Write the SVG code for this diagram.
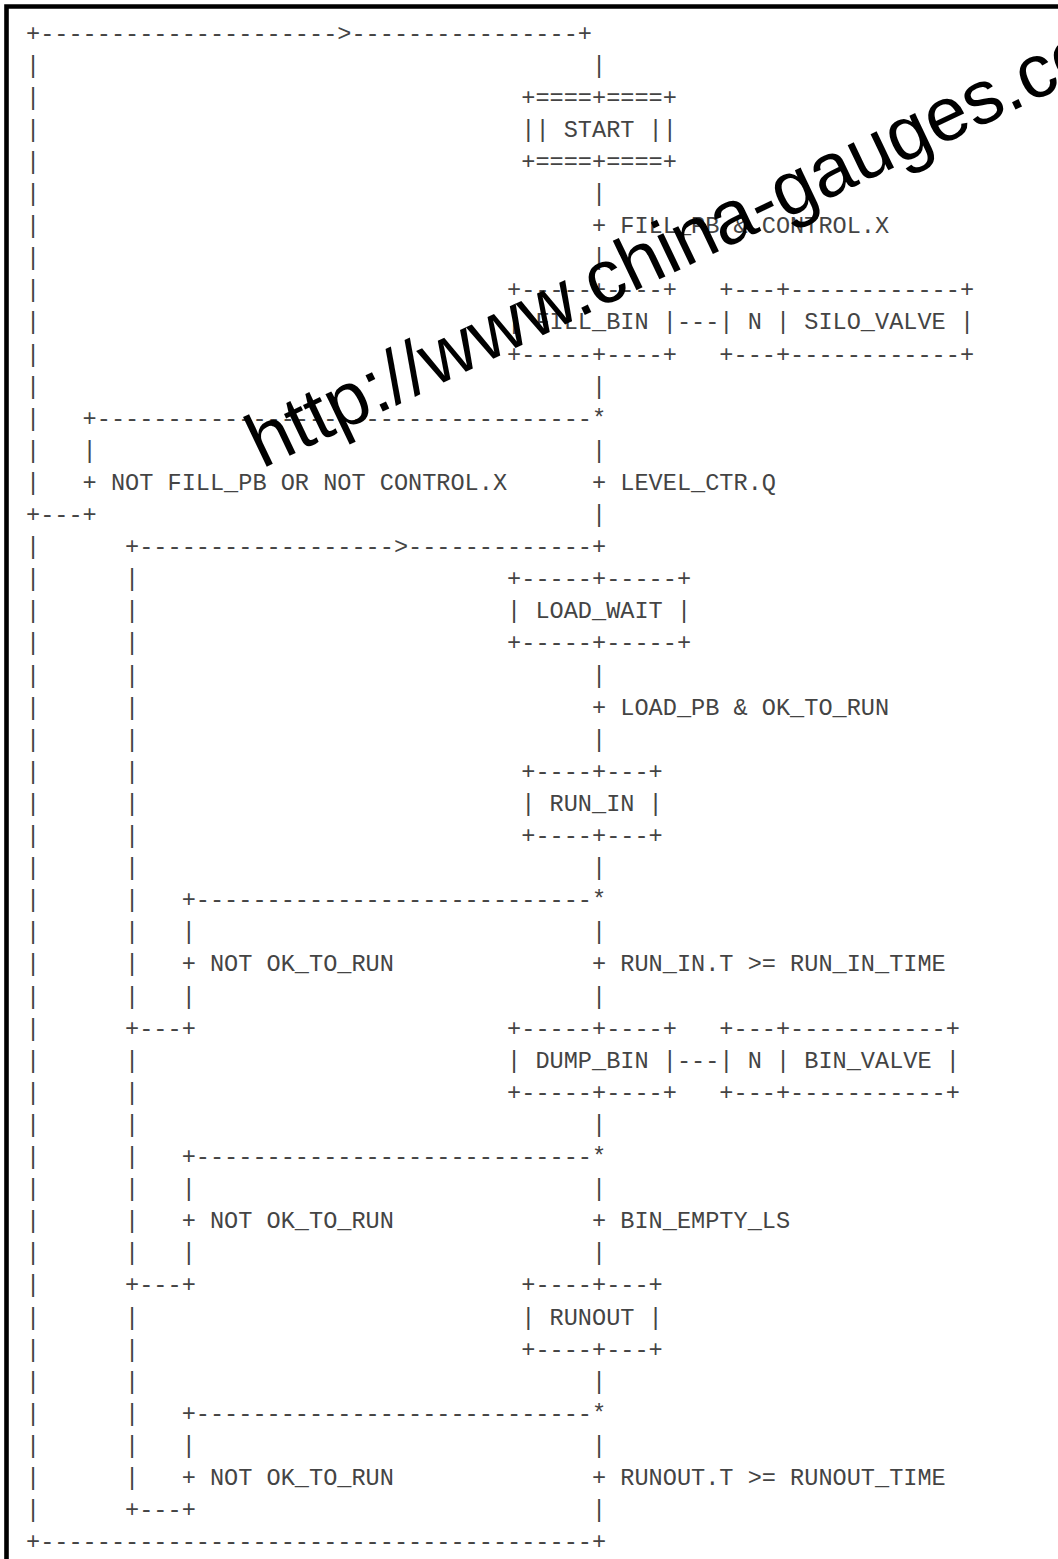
<svg xmlns="http://www.w3.org/2000/svg" width="1058" height="1559" viewBox="0 0 1058 1559">
<style>
.t{font-family:"Liberation Mono","Courier New",monospace;font-size:23.58px;fill:#444;white-space:pre}
.wm{font-family:"Liberation Sans",Arial,sans-serif;font-size:76px;fill:#000}
</style>
<rect width="1058" height="1559" fill="#fff"/>
<path d="M6.5,1559 V6.5 H1058" fill="none" stroke="#000" stroke-width="4.6"/>
<g id="connectors" class="t" xml:space="preserve">
<text x="26" y="40.5">+---------------------&gt;----------------+</text>
<text x="26" y="72.6">|</text><text x="592" y="72.6">|</text>
<text x="26" y="104.7">|</text>
<text x="26" y="136.8">|</text>
<text x="26" y="168.9">|</text>
<text x="26" y="201">|</text><text x="592" y="201">|</text>
<text x="26" y="233.1">|</text><text x="592" y="233.1">+ FILL_PB &amp; CONTROL.X</text>
<text x="26" y="265.2">|</text><text x="592" y="265.2">|</text>
<text x="26" y="297.3">|</text>
<text x="26" y="329.4">|</text><text x="676.9" y="329.4">---</text>
<text x="26" y="361.5">|</text>
<text x="26" y="393.6">|</text><text x="592" y="393.6">|</text>
<text x="26" y="425.7">|</text><text x="82.6" y="425.7">+-----------------------------------*</text>
<text x="26" y="457.8">|</text><text x="82.6" y="457.8">|</text><text x="592" y="457.8">|</text>
<text x="26" y="489.9">|</text><text x="82.6" y="489.9">+ NOT FILL_PB OR NOT CONTROL.X</text><text x="592" y="489.9">+ LEVEL_CTR.Q</text>
<text x="26" y="522">+---+</text><text x="592" y="522">|</text>
<text x="26" y="554.1">|</text><text x="125.05" y="554.1">+------------------&gt;-------------+</text>
<text x="26" y="586.2">|</text><text x="125.05" y="586.2">|</text>
<text x="26" y="618.3">|</text><text x="125.05" y="618.3">|</text>
<text x="26" y="650.4">|</text><text x="125.05" y="650.4">|</text>
<text x="26" y="682.5">|</text><text x="125.05" y="682.5">|</text><text x="592" y="682.5">|</text>
<text x="26" y="714.6">|</text><text x="125.05" y="714.6">|</text><text x="592" y="714.6">+ LOAD_PB &amp; OK_TO_RUN</text>
<text x="26" y="746.7">|</text><text x="125.05" y="746.7">|</text><text x="592" y="746.7">|</text>
<text x="26" y="778.8">|</text><text x="125.05" y="778.8">|</text>
<text x="26" y="810.9">|</text><text x="125.05" y="810.9">|</text>
<text x="26" y="843">|</text><text x="125.05" y="843">|</text>
<text x="26" y="875.1">|</text><text x="125.05" y="875.1">|</text><text x="592" y="875.1">|</text>
<text x="26" y="907.2">|</text><text x="125.05" y="907.2">|</text><text x="181.65" y="907.2">+----------------------------*</text>
<text x="26" y="939.3">|</text><text x="125.05" y="939.3">|</text><text x="181.65" y="939.3">|</text><text x="592" y="939.3">|</text>
<text x="26" y="971.4">|</text><text x="125.05" y="971.4">|</text><text x="181.65" y="971.4">+ NOT OK_TO_RUN</text><text x="592" y="971.4">+ RUN_IN.T &gt;= RUN_IN_TIME</text>
<text x="26" y="1003.5">|</text><text x="125.05" y="1003.5">|</text><text x="181.65" y="1003.5">|</text><text x="592" y="1003.5">|</text>
<text x="26" y="1035.6">|</text><text x="125.05" y="1035.6">+---+</text>
<text x="26" y="1067.7">|</text><text x="125.05" y="1067.7">|</text><text x="676.9" y="1067.7">---</text>
<text x="26" y="1099.8">|</text><text x="125.05" y="1099.8">|</text>
<text x="26" y="1131.9">|</text><text x="125.05" y="1131.9">|</text><text x="592" y="1131.9">|</text>
<text x="26" y="1164">|</text><text x="125.05" y="1164">|</text><text x="181.65" y="1164">+----------------------------*</text>
<text x="26" y="1196.1">|</text><text x="125.05" y="1196.1">|</text><text x="181.65" y="1196.1">|</text><text x="592" y="1196.1">|</text>
<text x="26" y="1228.2">|</text><text x="125.05" y="1228.2">|</text><text x="181.65" y="1228.2">+ NOT OK_TO_RUN</text><text x="592" y="1228.2">+ BIN_EMPTY_LS</text>
<text x="26" y="1260.3">|</text><text x="125.05" y="1260.3">|</text><text x="181.65" y="1260.3">|</text><text x="592" y="1260.3">|</text>
<text x="26" y="1292.4">|</text><text x="125.05" y="1292.4">+---+</text>
<text x="26" y="1324.5">|</text><text x="125.05" y="1324.5">|</text>
<text x="26" y="1356.6">|</text><text x="125.05" y="1356.6">|</text>
<text x="26" y="1388.7">|</text><text x="125.05" y="1388.7">|</text><text x="592" y="1388.7">|</text>
<text x="26" y="1420.8">|</text><text x="125.05" y="1420.8">|</text><text x="181.65" y="1420.8">+----------------------------*</text>
<text x="26" y="1452.9">|</text><text x="125.05" y="1452.9">|</text><text x="181.65" y="1452.9">|</text><text x="592" y="1452.9">|</text>
<text x="26" y="1485">|</text><text x="125.05" y="1485">|</text><text x="181.65" y="1485">+ NOT OK_TO_RUN</text><text x="592" y="1485">+ RUNOUT.T &gt;= RUNOUT_TIME</text>
<text x="26" y="1517.1">|</text><text x="125.05" y="1517.1">+---+</text><text x="592" y="1517.1">|</text>
<text x="26" y="1549.2">+---------------------------------------+</text>
</g>
<g id="node-start" class="t" xml:space="preserve">
<text x="521.25" y="104.7">+====+====+</text>
<text x="521.25" y="136.8">|| START ||</text>
<text x="521.25" y="168.9">+====+====+</text>
</g>
<g id="node-fill-bin" class="t" xml:space="preserve">
<text x="507.1" y="297.3">+-----+----+</text>
<text x="507.1" y="329.4">| FILL_BIN |</text>
<text x="507.1" y="361.5">+-----+----+</text>
</g>
<g id="node-silo-valve" class="t" xml:space="preserve">
<text x="719.35" y="297.3">+---+------------+</text>
<text x="719.35" y="329.4">| N | SILO_VALVE |</text>
<text x="719.35" y="361.5">+---+------------+</text>
</g>
<g id="node-load-wait" class="t" xml:space="preserve">
<text x="507.1" y="586.2">+-----+-----+</text>
<text x="507.1" y="618.3">| LOAD_WAIT |</text>
<text x="507.1" y="650.4">+-----+-----+</text>
</g>
<g id="node-run-in" class="t" xml:space="preserve">
<text x="521.25" y="778.8">+----+---+</text>
<text x="521.25" y="810.9">| RUN_IN |</text>
<text x="521.25" y="843">+----+---+</text>
</g>
<g id="node-dump-bin" class="t" xml:space="preserve">
<text x="507.1" y="1035.6">+-----+----+</text>
<text x="507.1" y="1067.7">| DUMP_BIN |</text>
<text x="507.1" y="1099.8">+-----+----+</text>
</g>
<g id="node-bin-valve" class="t" xml:space="preserve">
<text x="719.35" y="1035.6">+---+-----------+</text>
<text x="719.35" y="1067.7">| N | BIN_VALVE |</text>
<text x="719.35" y="1099.8">+---+-----------+</text>
</g>
<g id="node-runout" class="t" xml:space="preserve">
<text x="521.25" y="1292.4">+----+---+</text>
<text x="521.25" y="1324.5">| RUNOUT |</text>
<text x="521.25" y="1356.6">+----+---+</text>
</g>
<g id="watermark">
<text class="wm" transform="translate(262,469) rotate(-25.5)">http://www.china-gauges.com</text>
</g>
</svg>
